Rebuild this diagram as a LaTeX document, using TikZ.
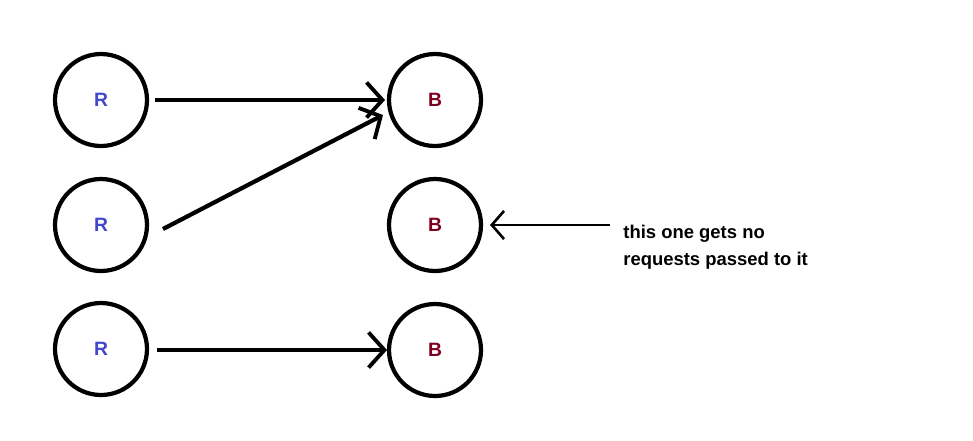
\documentclass[tikz,border=0pt]{standalone}
\usepackage{fontspec}
\setmainfont{Liberation Sans}
\usetikzlibrary{arrows.meta}
\definecolor{rblue}{RGB}{65,72,204}
\definecolor{bred}{RGB}{128,0,32}
\tikzset{
  circ/.style={circle,draw=black,line width=2.4pt,minimum size=1.84cm,inner sep=0pt,font=\bfseries\fontsize{11}{13}\selectfont},
  rnode/.style={circ,text=rblue},
  bnode/.style={circ,text=bred},
  conn/.style={line width=2.4pt,-{Straight Barb[length=9pt,width=20pt,line width=2.2pt]}},
  thinconn/.style={line width=1.5pt,-{Straight Barb[length=7pt,width=16pt,line width=1.5pt]}}
}
\begin{document}
\begin{tikzpicture}[x=0.02cm,y=-0.02cm]
\useasboundingbox (0,0) rectangle (973,440);
\node[rnode] (r1) at (101,100) {R};
\node[rnode] (r2) at (101,225) {R};
\node[rnode] (r3) at (101,349) {R};
\node[bnode] (b1) at (435,100) {B};
\node[bnode] (b2) at (435,225) {B};
\node[bnode] (b3) at (435,350) {B};
\coordinate (s1) at (155,100);
\coordinate (e1) at (385,100);
\coordinate (s2) at (163,229);
\coordinate (e2) at (383,115);
\coordinate (s3) at (157,350);
\coordinate (e3) at (387,350);
\coordinate (s4) at (610,225);
\coordinate (e4) at (490,225);
\draw[conn] (s1) -- (e1);
\draw[conn] (s2) -- (e2);
\draw[conn] (s3) -- (e3);
\draw[thinconn] (s4) -- (e4);
\node[anchor=north west,align=left,inner sep=0pt,font=\bfseries\fontsize{10.5}{15}\selectfont] (t) at (623,225) {this one gets no\\requests passed to it};
\end{tikzpicture}
\end{document}
